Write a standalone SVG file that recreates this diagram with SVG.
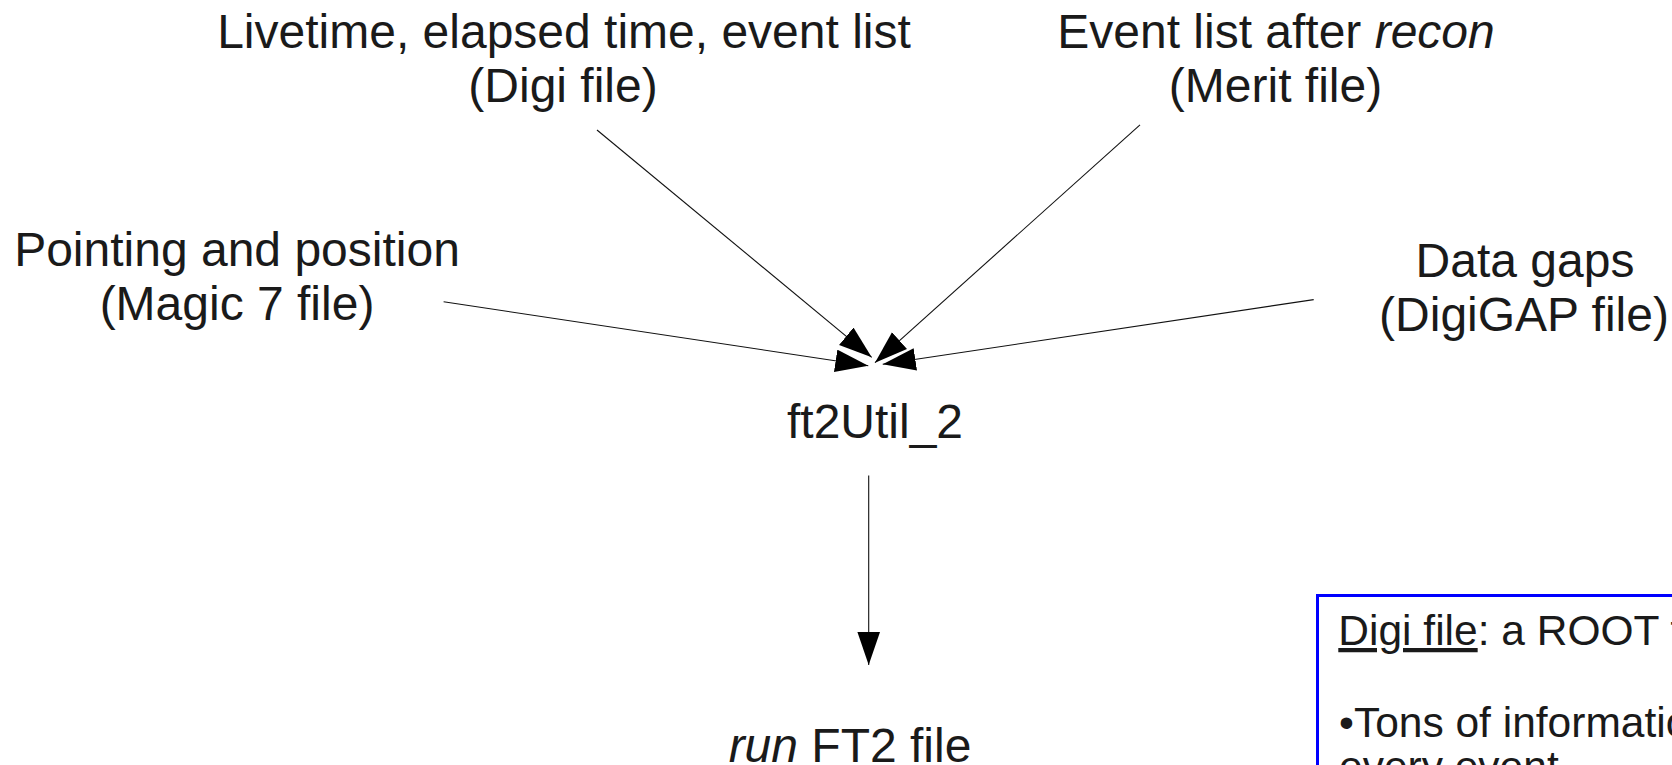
<svg xmlns="http://www.w3.org/2000/svg" width="1672" height="765" viewBox="0 0 1672 765">
<style>
.t{font-family:"Liberation Sans",Arial,sans-serif;font-size:48px;fill:#1a1a1a;text-anchor:middle}
.b{font-family:"Liberation Sans",Arial,sans-serif;font-size:42.5px;fill:#1a1a1a}
.c{stroke:#111;stroke-width:1.1;fill:none}
</style>
<defs>
<marker id="ah" markerUnits="userSpaceOnUse" markerWidth="34" markerHeight="24" refX="33" refY="11.3" orient="auto">
<path d="M0,0 L33,11.3 L0,22.6 Z" fill="#000"/>
</marker>
</defs>
<rect width="1672" height="765" fill="#fff"/>
<g id="connectors">
<line class="c" x1="597" y1="130" x2="871.7" y2="357.3" marker-end="url(#ah)"/>
<line class="c" x1="1140" y1="124.8" x2="875" y2="362.7" marker-end="url(#ah)"/>
<line class="c" x1="443.6" y1="301.8" x2="868.3" y2="365.7" marker-end="url(#ah)"/>
<line class="c" x1="1313.7" y1="299.6" x2="882.7" y2="364.3" marker-end="url(#ah)"/>
<line class="c" x1="868.7" y1="475.6" x2="868.7" y2="665" marker-end="url(#ah)"/>
</g>
<g id="digi">
<text class="t" x="564" y="47.5">Livetime, elapsed time, event list</text>
<text class="t" x="563" y="101.5">(Digi file)</text>
</g>
<g id="merit">
<text class="t" x="1276" y="47.5">Event list after <tspan font-style="italic">recon</tspan></text>
<text class="t" x="1275.5" y="101.5">(Merit file)</text>
</g>
<g id="magic7">
<text class="t" x="237" y="265.5">Pointing and position</text>
<text class="t" x="237" y="319.5">(Magic 7 file)</text>
</g>
<g id="digigap">
<text class="t" x="1525" y="277">Data gaps</text>
<text class="t" x="1524" y="330.5">(DigiGAP file)</text>
</g>
<g id="ft2util">
<text class="t" x="875" y="438">ft2Util_2</text>
</g>
<g id="ft2file">
<text class="t" x="850" y="761.5"><tspan font-style="italic">run</tspan> FT2 file</text>
</g>
<g id="note">
<rect x="1317.5" y="595.5" width="400" height="300" fill="#fff" stroke="#0000ff" stroke-width="3"/>
<text class="b" x="1338.3" y="645"><tspan text-decoration="underline">Digi file</tspan>: a ROOT file</text>
<text class="b" x="1339" y="737.3">•Tons of information</text>
<text class="b" x="1339" y="781">every event</text>
</g>
</svg>
